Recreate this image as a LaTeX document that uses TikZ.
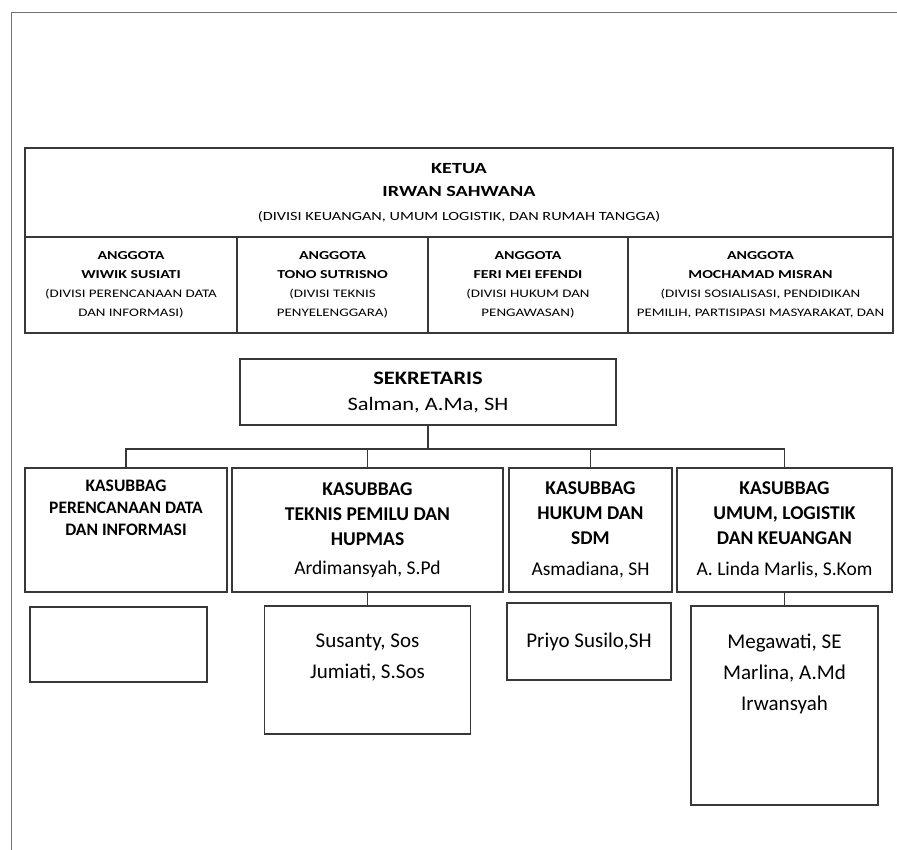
\documentclass[tikz,border=0pt]{standalone}
\usepackage{fontspec}
\setmainfont{Carlito}
\newfontfamily\widefont[FakeStretch=1.3]{Carlito}
\newfontfamily\semiwide[FakeStretch=1.18]{Carlito}
\usetikzlibrary{positioning}

\newcommand\divsz{\fontsize{11.5}{19}\selectfont}

\begin{document}
\begin{tikzpicture}[
      x=1pt, y=-1pt,
      box/.style   = {draw=black!78, line width=1.3pt, align=center, inner sep=2pt, outer sep=0pt},
      memb/.style  = {box, minimum height=96pt, font=\widefont\fontsize{12.2}{19}\selectfont},
      sub/.style   = {box, minimum height=124pt, font=\fontsize{19.5}{25}\selectfont},
      staff/.style = {box},
      names/.style = {align=center, inner sep=0pt, font=\fontsize{21}{31}\selectfont},
      link/.style  = {draw=black!78, line width=1.4pt}
  ]
  \useasboundingbox (0,0) rectangle (897,850);

  % --- outer frame ---
  \draw[black!55, line width=1pt] (11,870) |- (920,13);

  % --- Ketua and anggota ---
  \node[box, minimum width=868pt, minimum height=89pt, font=\widefont\fontsize{15.5}{23.5}\selectfont]
        (ketua) at (459,192.5)
        {\textbf{KETUA}\\ \textbf{IRWAN SAHWANA}\\
         \fontsize{12.5}{23.5}\selectfont (DIVISI KEUANGAN, UMUM LOGISTIK, DAN RUMAH TANGGA)};

  \node[memb, minimum width=212pt, anchor=north west] (wiwik) at (ketua.south west)
        {\textbf{ANGGOTA}\\ \textbf{WIWIK SUSIATI}\\ \divsz (DIVISI PERENCANAAN DATA\\ \divsz DAN INFORMASI)};
  \node[memb, minimum width=191pt, right=0pt of wiwik] (tono)
        {\textbf{ANGGOTA}\\ \textbf{TONO SUTRISNO}\\ \divsz (DIVISI TEKNIS\\ \divsz PENYELENGGARA)};
  \node[memb, minimum width=200pt, right=0pt of tono] (feri)
        {\textbf{ANGGOTA}\\ \textbf{FERI MEI EFENDI}\\ \divsz (DIVISI HUKUM DAN\\ \divsz PENGAWASAN)};
  \node[memb, minimum width=265pt, right=0pt of feri] (misran)
        {\textbf{ANGGOTA}\\ \textbf{MOCHAMAD MISRAN}\\ \divsz (DIVISI SOSIALISASI, PENDIDIKAN\\ \divsz PEMILIH, PARTISIPASI MASYARAKAT, DAN};

  % --- Sekretaris ---
  \node[box, minimum width=376pt, minimum height=66pt, font=\semiwide\fontsize{19}{26}\selectfont]
        (sekr) at (428,392) {\textbf{SEKRETARIS}\\ Salman, A.Ma, SH};

  % --- Kasubbag row ---
  \node[sub, minimum width=202pt, anchor=north west] (kdata) at (25,468) {};
  \node[sub, minimum width=271pt, right=5pt of kdata] (kteknis)
        {\textbf{KASUBBAG}\\ \textbf{TEKNIS PEMILU DAN}\\ \textbf{HUPMAS}\\[4pt] Ardimansyah, S.Pd};
  \node[sub, minimum width=163pt, right=6pt of kteknis] (khukum)
        {\textbf{KASUBBAG}\\ \textbf{HUKUM DAN}\\ \textbf{SDM}\\[6pt] Asmadiana, SH};
  \node[sub, minimum width=215pt, right=5pt of khukum] (kumum)
        {\textbf{KASUBBAG}\\ \textbf{UMUM, LOGISTIK}\\ \textbf{DAN KEUANGAN}\\[6pt] A. Linda Marlis, S.Kom};
  \node[names, font=\fontsize{17.5}{22}\bfseries, below=12pt of kdata.north] (kdatatxt)
        {KASUBBAG\\ PERENCANAAN DATA\\ DAN INFORMASI};

  % --- Bus from sekretaris ---
  \coordinate (bus) at ([yshift=-24pt]sekr.south);
  \draw[link] (sekr.south) -- (bus);
  \draw[link] (kdata.north) |- (bus) -| (kumum.north);
  \draw[link] (kteknis.north) -- (kteknis.north |- bus);
  \draw[link] (khukum.north) -- (khukum.north |- bus);

  % --- Staff boxes ---
  \node[staff, minimum width=177pt, minimum height=75pt, anchor=north] (sdata) at (118.5,607) {};
  \node[staff, minimum width=206pt, minimum height=128pt, below=14pt of kteknis] (steknis) {};
  \node[staff, minimum width=164pt, minimum height=77pt, anchor=north, font=\fontsize{21}{31}\selectfont]
        (shukum) at (589,603) {Priyo Susilo,SH};
  \node[staff, minimum width=187pt, minimum height=199pt, below=14pt of kumum] (sumum) {};
  \node[names, below=28pt of steknis.north] (steknistxt) {Susanty, Sos\\ Jumiati, S.Sos};
  \node[names, below=28pt of sumum.north] (sumumtxt) {Megawati, SE\\ Marlina, A.Md\\ Irwansyah};

  \draw[link] (kteknis.south) -- (steknis.north);
  \draw[link] (kumum.south) -- (sumum.north);
\end{tikzpicture}
\end{document}
